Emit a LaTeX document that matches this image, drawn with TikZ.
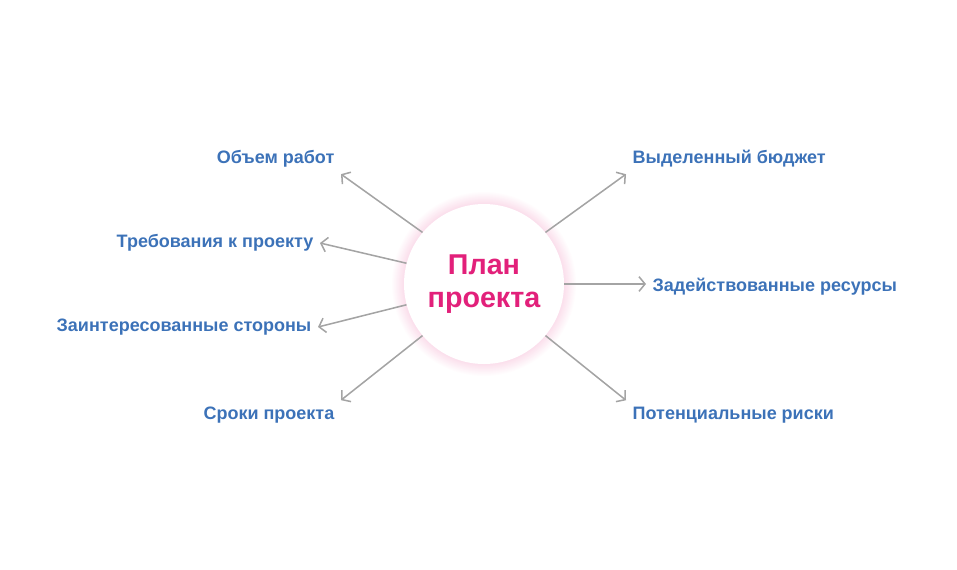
\documentclass[tikz,border=0pt]{standalone}
\usepackage{fontspec}
\setmainfont{Liberation Sans}
\usetikzlibrary{positioning, calc}
\usetikzlibrary{arrows.meta}
\tikzset{>={Straight Barb[length=4.5pt, width=11pt]}}
\definecolor{myblue}{HTML}{3C72B8}
\definecolor{mypink}{HTML}{E2207A}
\definecolor{mygray}{HTML}{A4A4A4}
\tikzset{
  topic/.style={font=\fontsize{13.5}{16}\selectfont\bfseries, text=myblue, inner sep=3pt, outer sep=2pt},
  link/.style={->, draw=mygray, line width=1.15pt},
}

\begin{document}
\begin{tikzpicture}[x=0.75pt, y=-0.75pt]
  \useasboundingbox (0,0) rectangle (957,569);
  % soft glow round the hub
  \foreach \r in {81,...,92}
    \fill[mypink, opacity=0.01] (484,284) circle (\r);
  \node[circle, fill=white, minimum size=120pt, inner sep=0, align=center, text=mypink,
        font=\fontsize{21.5}{25}\selectfont\bfseries] (plan) at (484,284) {План\\проекта};

  \node[topic, anchor=east] (scope) at (341,159) {Объем работ};
  \node[topic, anchor=east] (reqs) at (320,243) {Требования к проекту};
  \node[topic, anchor=east] (stake) at (318,327) {Заинтересованные стороны};
  \node[topic, anchor=east] (terms) at (341,415) {Сроки проекта};
  \node[topic, anchor=west] (budget) at (626,159) {Выделенный бюджет};
  \node[topic, anchor=west] (res) at (646,287) {Задействованные ресурсы};
  \node[topic, anchor=west] (risk) at (626,415) {Потенциальные риски};

  \draw[link] (plan.140) -- (scope.south east);
  \draw[link] (plan.165) -- (reqs.east);
  \draw[link] (plan.195) -- (stake.east);
  \draw[link] (plan.220) -- (terms.north east);
  \draw[link] (plan.40) -- (budget.south west);
  \draw[link] (plan.0) -- (plan.0 -| res.west);
  \draw[link] (plan.320) -- (risk.north west);
\end{tikzpicture}
\end{document}
